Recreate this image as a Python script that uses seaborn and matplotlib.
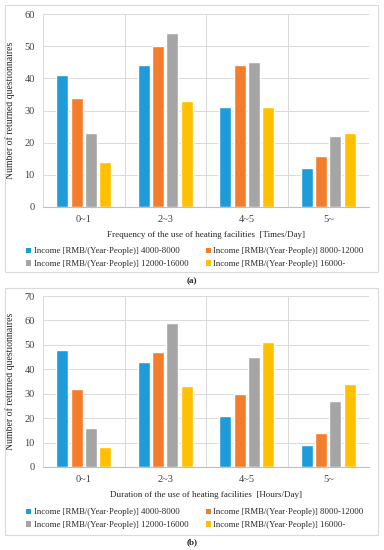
import pandas as pd
import numpy as np
import matplotlib.pyplot as plt
import seaborn as sns
from matplotlib.patches import Rectangle, Patch

# ---- data ----
categories = ["0~1", "2~3", "4~5", "5~"]
incomes = [
    "Income [RMB/(Year\u00b7People)] 4000-8000",
    "Income [RMB/(Year\u00b7People)] 8000-12000",
    "Income [RMB/(Year\u00b7People)] 12000-16000",
    "Income [RMB/(Year\u00b7People)] 16000-",
]
freq_4000 = [41, 44, 31, 12]
freq_8000 = [34, 50, 44, 16]
freq_12000 = [23, 54, 45, 22]
freq_16000 = [14, 33, 31, 23]

dur_4000 = [48, 43, 21, 9]
dur_8000 = [32, 47, 30, 14]
dur_12000 = [16, 59, 45, 27]
dur_16000 = [8, 33, 51, 34]

colors = ["#1E9BD9", "#F47D2C", "#A5A5A5", "#FFC000"]


def to_long(series):
    rows = []
    for inc, vals in zip(incomes, series):
        for cat, v in zip(categories, vals):
            rows.append({"cat": cat, "income": inc, "count": v})
    return pd.DataFrame(rows)


df_a = to_long([freq_4000, freq_8000, freq_12000, freq_16000])
df_b = to_long([dur_4000, dur_8000, dur_12000, dur_16000])

sns.set_style("white")
plt.rcParams["font.family"] = ["Liberation Serif", "DejaVu Serif"]

fig = plt.figure(figsize=(3.84, 5.5), dpi=100)

W, H = 384, 550


def fx(px):
    return px / W


def fy(py):
    return 1 - py / H


# panel frames
for top, bot in [(5, 272), (288, 535)]:
    fig.patches.append(Rectangle((fx(5), fy(bot)), fx(373), (bot - top) / H,
                                 transform=fig.transFigure, fill=False,
                                 edgecolor="#D9D9D9", linewidth=0.8))


def draw_panel(df, rect, ymax, xlabel, leg_top):
    ax = fig.add_axes(rect)
    sns.barplot(data=df, x="cat", y="count", hue="income", palette=colors,
                width=0.7, gap=0.16, saturation=1, ax=ax, legend=False)
    ax.set_ylim(0, ymax)
    ax.set_xlim(-0.5, len(categories) - 0.5)
    ax.set_yticks(np.arange(0, ymax + 1, 10))
    ax.set_xticks(range(len(categories)))
    ax.set_xticks(np.arange(-0.5, len(categories), 1), minor=True)
    ax.grid(axis="y", color="#D9D9D9", linewidth=0.7)
    ax.grid(axis="x", which="minor", color="#D9D9D9", linewidth=0.7)
    ax.set_axisbelow(True)
    for s in ["top", "right", "left"]:
        ax.spines[s].set_visible(False)
    ax.spines["bottom"].set_color("#BFBFBF")
    ax.spines["bottom"].set_linewidth(0.8)
    ax.tick_params(axis="both", which="both", length=0, labelsize=7.5,
                   colors="#404040", pad=6)
    ax.set_xlabel(xlabel, fontsize=6.5, color="#262626", labelpad=5)
    ax.set_ylabel("Number of returned questionnaires", fontsize=7,
                  color="#262626", labelpad=7)
    # row-wise legend order like the original
    order = [0, 2, 1, 3]
    handles = [Patch(facecolor=colors[i], edgecolor="none") for i in order]
    labels = [incomes[i] for i in order]
    fig.legend(handles, labels, loc="upper left",
               bbox_to_anchor=(fx(22), fy(leg_top)), ncol=2, frameon=False,
               fontsize=6.3, handlelength=0.55, handleheight=0.55,
               handletextpad=0.3, columnspacing=2.0, labelspacing=0.55,
               borderpad=0)
    return ax


draw_panel(df_a, [fx(43), fy(207), fx(326), 193 / H], 60,
           "Frequency of the use of heating facilities  [Times/Day]", 243)
draw_panel(df_b, [fx(43), fy(467), fx(326), 171 / H], 70,
           "Duration of the use of heating facilities  [Hours/Day]", 504)

fig.text(0.5, fy(281), "(a)", ha="center", va="center", fontsize=6.5,
         fontweight="bold", color="#262626")
fig.text(0.5, fy(542), "(b)", ha="center", va="center", fontsize=6.5,
         fontweight="bold", color="#262626")

fig.savefig("out.png", dpi=100)
